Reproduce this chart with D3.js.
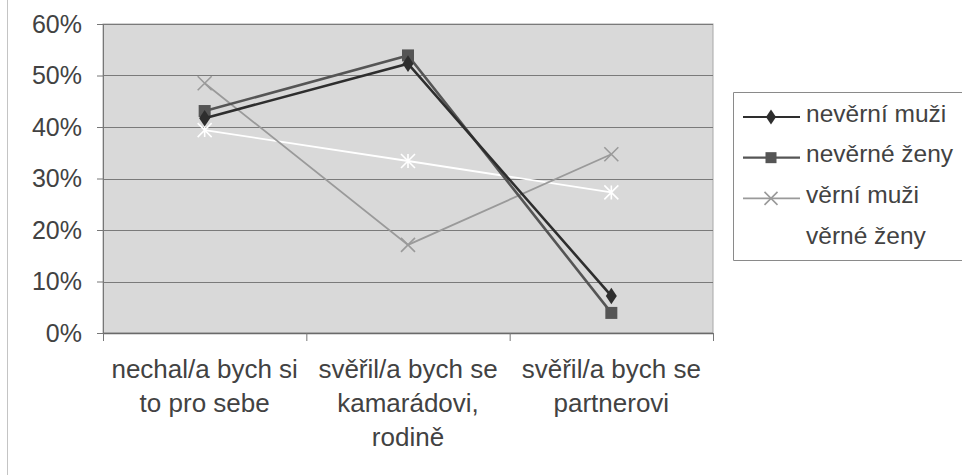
<!DOCTYPE html>
<html>
<head>
<meta charset="utf-8">
<script src="https://cdn.jsdelivr.net/npm/d3@7"></script>
<style>
  body { margin: 0; background: #fff; }
  svg { font-family: "Liberation Sans", Arial, sans-serif; }
</style>
</head>
<body>
<div id="chart" style="width:962px;height:475px"></div>
<script>
// categories and series
const categories = [
  ["nechal/a bych si", "to pro sebe"],
  ["svěřil/a bych se", "kamarádovi,", "rodině"],
  ["svěřil/a bych se", "partnerovi"]
];
const seriesNames = ["nevěrní muži", "nevěrné ženy", "věrní muži", "věrné ženy"];
const neverniMuzi = [0.417, 0.523, 0.072];
const neverneZeny = [0.431, 0.539, 0.039];
const verniMuzi = [0.485, 0.171, 0.347];
const verneZeny = [0.394, 0.334, 0.273];
const yTicks = [0, 0.1, 0.2, 0.3, 0.4, 0.5, 0.6];

const series = [
  { name: seriesNames[0], values: neverniMuzi, color: "#2e2e2e", marker: "diamond" },
  { name: seriesNames[1], values: neverneZeny, color: "#555555", marker: "square" },
  { name: seriesNames[2], values: verniMuzi, color: "#9a9a9a", marker: "cross" },
  { name: seriesNames[3], values: verneZeny, color: "#ffffff", marker: "star" }
];

const width = 962, height = 475;
const plot = { left: 103, right: 713, top: 24, bottom: 333 };
const textColor = "#424242";

const svg = d3.select("#chart").append("svg")
  .attr("width", width).attr("height", height);

// outer frame (only left edge shows in the picture)
svg.append("line")
  .attr("x1", 7.5).attr("x2", 7.5).attr("y1", 0).attr("y2", height)
  .attr("stroke", "#c4c4c4");

const x = d3.scaleBand()
  .domain(d3.range(categories.length))
  .range([plot.left, plot.right]);

const y = d3.scaleLinear()
  .domain([0, 0.6])
  .range([plot.bottom, plot.top]);

// plot background
svg.append("rect")
  .attr("x", plot.left).attr("y", plot.top)
  .attr("width", plot.right - plot.left).attr("height", plot.bottom - plot.top)
  .attr("fill", "#d9d9d9")
  .attr("stroke", "#a8a8a8");

// grid
svg.append("g").selectAll("line")
  .data(yTicks.slice(1))
  .join("line")
  .attr("x1", plot.left).attr("x2", plot.right)
  .attr("y1", d => Math.round(y(d)) + 0.5).attr("y2", d => Math.round(y(d)) + 0.5)
  .attr("stroke", "#7a7a7a").attr("stroke-width", 1.2);

// y axis
const yAxis = svg.append("g")
  .attr("transform", `translate(${plot.left},0)`)
  .call(d3.axisLeft(y).tickValues(yTicks).tickFormat(d3.format(".0%")).tickSize(6).tickPadding(15));
yAxis.select(".domain").attr("stroke", "#777");
yAxis.selectAll(".tick line").attr("stroke", "#777");
yAxis.selectAll("text").attr("fill", textColor).style("font-size", "25px")
  .style("font-family", "'Liberation Sans', Arial, sans-serif");

// x axis
const xAxis = svg.append("g")
  .attr("transform", `translate(0,${plot.bottom})`);
xAxis.append("line")
  .attr("x1", plot.left).attr("x2", plot.right).attr("y1", 0.5).attr("y2", 0.5)
  .attr("stroke", "#6a6a6a").attr("stroke-width", 1.5);
xAxis.selectAll(".xtick")
  .data(d3.range(categories.length + 1))
  .join("line")
  .attr("class", "xtick")
  .attr("x1", d => plot.left + d * x.step() + 0.5)
  .attr("x2", d => plot.left + d * x.step() + 0.5)
  .attr("y1", 0).attr("y2", 8)
  .attr("stroke", "#777");

xAxis.selectAll(".xlabel")
  .data(categories)
  .join("text")
  .attr("class", "xlabel")
  .attr("text-anchor", "middle")
  .attr("fill", textColor)
  .style("font-size", "26px")
  .each(function(lines, i) {
    d3.select(this).selectAll("tspan")
      .data(lines)
      .join("tspan")
      .attr("x", x(i) + x.bandwidth() / 2)
      .attr("y", (d, j) => 45 + j * 34)
      .text(d => d);
  });

// markers
function drawMarker(g, type, color, size) {
  if (type === "diamond") {
    g.append("path").attr("d", d3.symbol(d3.symbolDiamond, size * size * 0.55)())
      .attr("fill", color).attr("transform", "scale(1.15,1)");
  } else if (type === "square") {
    g.append("rect").attr("x", -size / 2).attr("y", -size / 2)
      .attr("width", size).attr("height", size).attr("fill", color);
  } else if (type === "cross") {
    const s = size / 2 + 1;
    g.append("path").attr("d", `M${-s},${-s}L${s},${s}M${-s},${s}L${s},${-s}`)
      .attr("stroke", color).attr("stroke-width", 1.6).attr("fill", "none");
  } else if (type === "star") {
    const s = size / 2 + 1;
    g.append("path").attr("d", `M${-s},${-s}L${s},${s}M${-s},${s}L${s},${-s}M0,${-s}L0,${s}`)
      .attr("stroke", color).attr("stroke-width", 1.6).attr("fill", "none");
  }
}

const line = d3.line()
  .x((d, i) => x(i) + x.bandwidth() / 2)
  .y(d => y(d));

const seriesG = svg.append("g");
// draw light lines first so the dark ones sit on top
[3, 2, 1, 0].forEach(k => {
  const s = series[k];
  const g = seriesG.append("g");
  g.append("path")
    .datum(s.values)
    .attr("d", line)
    .attr("fill", "none")
    .attr("stroke", s.color)
    .attr("stroke-width", k < 2 ? 2.6 : 1.8);
  s.values.forEach((v, i) => {
    const m = g.append("g")
      .attr("transform", `translate(${x(i) + x.bandwidth() / 2},${y(v)})`);
    drawMarker(m, s.marker, s.color, 12);
  });
});

// legend
const legend = svg.append("g");
legend.append("path")
  .attr("d", "M962,92.5H733.5V260.5H962")
  .attr("fill", "#fff").attr("stroke", "#8a8a8a");

const legendY = d3.scalePoint()
  .domain(seriesNames)
  .range([117, 239]);

series.forEach((s, k) => {
  const yy = legendY(s.name);
  const g = legend.append("g");
  g.append("line")
    .attr("x1", 743).attr("x2", 800).attr("y1", yy).attr("y2", yy)
    .attr("stroke", s.color).attr("stroke-width", k < 2 ? 2.2 : 1.6);
  drawMarker(g.append("g").attr("transform", `translate(771,${yy})`), s.marker, s.color, 11);
  g.append("text")
    .attr("x", 806).attr("y", yy + 4.5)
    .attr("fill", textColor)
    .style("font-size", "24.5px")
    .text(s.name);
});
</script>
</body>
</html>
